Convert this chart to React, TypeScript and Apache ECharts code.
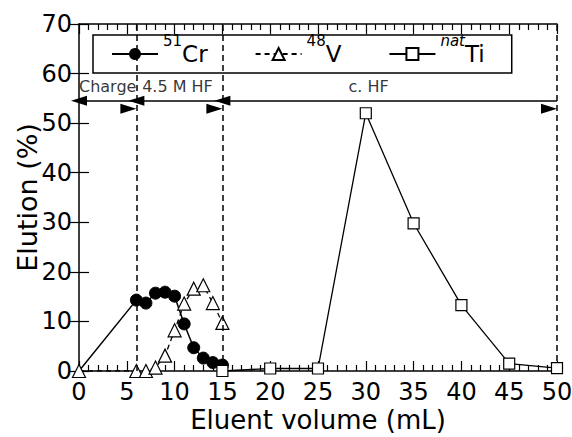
import React, { useEffect, useRef } from 'react';
import * as echarts from 'echarts';

const FONT = '"DejaVu Sans", sans-serif';

// Eluent volume (mL) and elution (%) for each nuclide
const crVolume = [0, 6, 7, 8, 9, 10, 11, 12, 13, 14, 15];
const crElution = [0, 14.3, 13.7, 15.7, 15.9, 15.1, 9.5, 4.7, 2.6, 1.7, 1.2];
const vVolume = [0, 6, 7, 8, 9, 10, 11, 12, 13, 14, 15];
const vElution = [0, 0, 0, 0.7, 3.1, 8.2, 13.6, 16.6, 17.3, 13.7, 9.7];
const tiVolume = [15, 20, 25, 30, 35, 40, 45, 50];
const tiElution = [0, 0.5, 0.5, 52, 29.8, 13.3, 1.5, 0.6];

const seriesNames = ['51Cr', '48V', 'natTi'];

// axes
const xMin = 0, xMax = 50, xInterval = 5;
const yMin = 0, yMax = 70, yInterval = 10;

// elution stages
const stageStart = [0, 6, 15];
const stageEnd = [6, 15, 50];
const stageLabels = ['Charge', '4.5 M HF', 'c. HF'];
const stageLabelX = [3, 10.3, 30.3];
const stageLabelY = 57.3;
const stageArrowY = 54.5;
const stageBoundaries = [6, 15, 50];

export default function App() {
  const ref = useRef<HTMLDivElement>(null);
  useEffect(() => {
    if (!ref.current) return;
    const chart = echarts.init(ref.current, undefined, { renderer: 'svg' });
    const black = '#000';
    const axisCommon = {
      type: 'value',
      min: xMin,
      max: xMax,
      interval: xInterval,
      splitLine: { show: false },
      minorSplitLine: { show: false },
    };
    const option: any = {
      animation: false,
      backgroundColor: '#fff',
      textStyle: { fontFamily: FONT },
      grid: { left: 79, right: 15, top: 24, bottom: 66, containLabel: false, outerBoundsMode: 'none' },
      legend: {
        data: seriesNames,
        left: 93,
        top: 35,
        orient: 'horizontal',
        itemWidth: 46,
        itemHeight: 15,
        itemGap: 47,
        padding: [-1.5, 27, -1.5, 18],
        borderColor: black,
        borderWidth: 1.5,
        borderRadius: 0,
        backgroundColor: '#fff',
        selectedMode: false,
        formatter: (name: string) => {
          if (name === '51Cr') return '{sup|51}{b|Cr}';
          if (name === '48V') return '{sup|48}{b|V}';
          return '{supi|nat}{b|Ti}';
        },
        textStyle: {
          color: black,
          fontFamily: FONT,
          rich: {
            b: { fontSize: 23, lineHeight: 24, color: black, fontFamily: FONT, verticalAlign: 'middle' },
            sup: { fontSize: 15, lineHeight: 24, color: black, fontFamily: FONT, padding: [0, 0, 26, 0], verticalAlign: 'middle' },
            supi: { fontSize: 15, lineHeight: 24, color: black, fontFamily: FONT, fontStyle: 'italic', padding: [0, 0, 26, 0], verticalAlign: 'middle' },
          },
        },
      },
      xAxis: [
        {
          ...axisCommon,
          position: 'bottom',
          name: 'Eluent volume (mL)',
          nameLocation: 'middle',
          nameGap: 36,
          nameMoveOverlap: false,
          nameTextStyle: { fontSize: 26, color: black, fontFamily: FONT },
          axisLine: { show: true, onZero: false, lineStyle: { color: black, width: 1.5 } },
          axisTick: { show: true, inside: true, length: 10, lineStyle: { color: black, width: 1.2 } },
          minorTick: { show: true, splitNumber: 5, length: 6, lineStyle: { color: black, width: 1.2 } },
          axisLabel: { fontSize: 24, color: black, margin: 9, fontFamily: FONT },
        },
        {
          ...axisCommon,
          position: 'top',
          axisLine: { show: true, onZero: false, lineStyle: { color: black, width: 1.5 } },
          axisTick: { show: true, inside: true, length: 10, lineStyle: { color: black, width: 1.2 } },
          minorTick: { show: true, splitNumber: 5, length: 6, lineStyle: { color: black, width: 1.2 } },
          axisLabel: { show: false },
        },
      ],
      yAxis: [
        {
          type: 'value',
          min: yMin,
          max: yMax,
          interval: yInterval,
          position: 'left',
          name: 'Elution (%)',
          nameLocation: 'middle',
          nameGap: 38,
          nameMoveOverlap: false,
          nameTextStyle: { fontSize: 27, color: black, fontFamily: FONT },
          axisLine: { show: true, onZero: false, lineStyle: { color: black, width: 1.5 } },
          axisTick: { show: true, inside: true, length: 10, lineStyle: { color: black, width: 1.2 } },
          axisLabel: { fontSize: 24, color: black, margin: 7, fontFamily: FONT },
          splitLine: { show: false },
        },
        {
          type: 'value',
          min: yMin,
          max: yMax,
          interval: yInterval,
          position: 'right',
          axisLine: { show: false },
          axisTick: { show: true, inside: true, length: 10, lineStyle: { color: black, width: 1.2 } },
          axisLabel: { show: false },
          splitLine: { show: false },
        },
      ],
      series: [
        {
          name: 'stages',
          type: 'scatter',
          silent: true,
          symbolSize: 0,
          z: 1,
          data: stageLabelX.map((x) => [x, stageLabelY]),
          label: {
            show: true,
            position: 'inside',
            formatter: (p: any) => stageLabels[p.dataIndex],
            fontSize: 16,
            color: black,
            fontFamily: FONT,
          },
          markLine: {
            silent: true,
            symbol: ['none', 'none'],
            label: { show: false },
            lineStyle: { color: black, width: 1.5, type: [6, 4] },
            data: stageBoundaries.map((x) => ({ xAxis: x })),
          },
        },
        {
          name: 'arrows',
          type: 'line',
          silent: true,
          data: [],
          markLine: {
            silent: true,
            symbol: ['triangle', 'triangle'],
            symbolSize: [10, 16],
            symbolOffset: [0, 8],
            label: { show: false },
            lineStyle: { color: black, width: 1.5, type: 'solid' },
            itemStyle: { color: black },
            data: stageStart.map((s, i) => [
              { coord: [s, stageArrowY] },
              { coord: [stageEnd[i], stageArrowY] },
            ]),
          },
        },
        {
          name: '51Cr',
          type: 'line',
          symbol: 'circle',
          symbolSize: 12,
          z: 3,
          itemStyle: { color: black, borderColor: black },
          lineStyle: { color: black, width: 1.5 },
          data: crVolume.map((x, i) =>
            i === 0 ? { value: [x, crElution[i]], symbol: 'none' } : [x, crElution[i]]
          ),
        },
        {
          name: '48V',
          type: 'line',
          symbol: 'triangle',
          symbolSize: 13,
          z: 4,
          itemStyle: { color: '#fff', borderColor: black, borderWidth: 1.2 },
          lineStyle: { color: black, width: 1.3, type: [5, 4] },
          data: vVolume.map((x, i) => [x, vElution[i]]),
        },
        {
          name: 'natTi',
          type: 'line',
          symbol: 'rect',
          symbolSize: 11,
          z: 5,
          itemStyle: { color: '#fff', borderColor: black, borderWidth: 1.2 },
          lineStyle: { color: black, width: 1.3 },
          data: tiVolume.map((x, i) => [x, tiElution[i]]),
        },
      ],
    };
    chart.setOption(option);
    return () => chart.dispose();
  }, []);
  return (
    <div
      ref={ref}
      style={{ position: 'fixed', left: 0, top: 0, width: 572, height: 437, background: '#fff' }}
    />
  );
}
